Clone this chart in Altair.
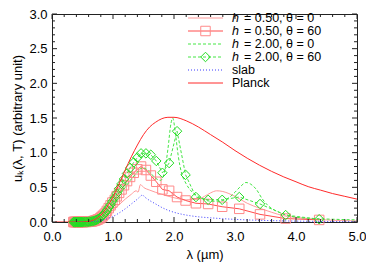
import altair as alt
import pandas as pd

# ---------------- data ----------------
planck_lam = [0.05, 0.3, 0.4, 0.5, 0.6, 0.7, 0.8, 0.9, 1.0, 1.1, 1.2, 1.3, 1.4, 1.5, 1.6, 1.7,
              1.8, 1.9, 2.0, 2.2, 2.4, 2.6, 2.8, 3.0, 3.2, 3.4, 3.6, 3.8, 4.0, 4.2, 4.4, 4.6, 4.8, 5.0]
planck_u = [0, 0, 0, 0.001, 0.008, 0.036, 0.10, 0.21, 0.36, 0.55, 0.75, 0.94, 1.11, 1.26, 1.37, 1.44,
            1.49, 1.51, 1.51, 1.46, 1.37, 1.26, 1.15, 1.03, 0.92, 0.82, 0.73, 0.65, 0.58, 0.51, 0.46, 0.41, 0.37, 0.33]

slab_lam = [0.35, 0.6, 0.7, 0.8, 0.9, 1.0, 1.1, 1.2, 1.3, 1.4, 1.45, 1.48, 1.52, 1.6, 1.7, 1.8, 1.9,
            2.0, 2.2, 2.4, 2.6, 2.8, 3.0, 3.5, 4.0, 4.5, 5.0]
slab_u = [0, 0.002, 0.008, 0.02, 0.045, 0.08, 0.13, 0.19, 0.26, 0.33, 0.37, 0.39, 0.36, 0.31, 0.26, 0.21, 0.17,
          0.14, 0.10, 0.075, 0.06, 0.048, 0.038, 0.022, 0.013, 0.008, 0.005]

h05_t0_lam = [0.35, 0.6, 0.7, 0.8, 0.9, 1.0, 1.1, 1.2, 1.3, 1.38, 1.41, 1.45, 1.5, 1.6, 1.8, 2.0, 2.2, 2.4,
              2.5, 2.6, 2.7, 2.8, 2.9, 3.0, 3.2, 3.4, 3.6, 3.8, 4.0, 4.5, 5.0]
h05_t0_u = [0, 0.005, 0.015, 0.05, 0.10, 0.17, 0.25, 0.33, 0.40, 0.45, 0.43, 0.54, 0.50, 0.46, 0.40, 0.35, 0.32, 0.33,
            0.37, 0.42, 0.45, 0.44, 0.41, 0.37, 0.27, 0.20, 0.14, 0.09, 0.065, 0.03, 0.015]

h20_t0_lam = [0.35, 0.6, 0.7, 0.8, 0.9, 1.0, 1.1, 1.2, 1.3, 1.4, 1.45, 1.5, 1.6, 1.7, 1.78, 1.85, 1.9, 1.95,
              1.98, 2.02, 2.07, 2.12, 2.2, 2.3, 2.4, 2.5, 2.6, 2.7, 2.8, 2.9, 3.0, 3.1, 3.18, 3.25, 3.35,
              3.45, 3.55, 3.7, 3.85, 4.0, 4.3, 4.6, 5.0]
h20_t0_u = [0, 0.003, 0.02, 0.07, 0.15, 0.26, 0.38, 0.5, 0.62, 0.72, 0.77, 0.78, 0.72, 0.63, 0.6, 0.75, 1.05, 1.42,
            1.5, 1.3, 0.95, 0.72, 0.55, 0.43, 0.37, 0.32, 0.3, 0.3, 0.31, 0.35, 0.43, 0.52, 0.57, 0.55, 0.47,
            0.33, 0.23, 0.15, 0.1, 0.07, 0.05, 0.04, 0.03]

# marker (theta = 60) series share one wavelength grid
m_lam = [0.35, 0.36, 0.37, 0.38, 0.39, 0.40, 0.41, 0.42, 0.43, 0.44, 0.45, 0.46, 0.47, 0.48, 0.49, 0.50,
         0.52, 0.54, 0.56, 0.58, 0.60, 0.62, 0.64, 0.66, 0.68, 0.70,
         0.72, 0.74, 0.76, 0.79, 0.81, 0.83, 0.85, 0.88, 0.90, 0.93, 0.96, 0.99,
         1.03, 1.06, 1.10, 1.14, 1.18, 1.23, 1.28, 1.34, 1.40, 1.46,
         1.54, 1.62, 1.71, 1.81, 1.92, 2.05, 2.19, 2.36, 2.56, 2.79,
         3.07, 3.41, 3.83, 4.38]
h05_t60_u = [0] * 16 + [0.0005, 0.001, 0.001, 0.002, 0.003, 0.005, 0.007, 0.01, 0.014, 0.019,
                        0.025, 0.032, 0.04, 0.055, 0.07, 0.085, 0.105, 0.13, 0.16, 0.2, 0.24, 0.28,
                        0.32, 0.37, 0.42, 0.47, 0.53, 0.59, 0.65, 0.71, 0.76, 0.8,
                        0.75, 0.67, 0.58, 0.47, 0.45, 0.36, 0.31, 0.27, 0.26, 0.22,
                        0.19, 0.11, 0.05, 0.03]
h20_t60_u = [0] * 16 + [0.0005, 0.001, 0.0015, 0.002, 0.003, 0.005, 0.008, 0.011, 0.015, 0.02,
                        0.027, 0.035, 0.045, 0.06, 0.075, 0.09, 0.11, 0.14, 0.17, 0.21, 0.25, 0.3,
                        0.35, 0.41, 0.48, 0.55, 0.62, 0.7, 0.78, 0.86, 0.93, 0.99,
                        0.99, 0.97, 0.88, 0.71, 0.85, 1.31, 0.68, 0.36, 0.32, 0.32,
                        0.36, 0.26, 0.1, 0.04]

x_major = [0, 1, 2, 3, 4, 5]
y_major = [0, 0.5, 1.0, 1.5, 2.0, 2.5, 3.0]
legend_labels = ["= 0.50, θ = 0", "= 0.50, θ = 60", "= 2.00, θ = 0", "= 2.00, θ = 60", "slab", "Planck"]

# ---------------- styling ----------------
W, H = 305, 208
FONT = "Liberation Sans"
FRAME = "#222222"
C_PLANCK = "#ff2a2a"
C_H05T0 = "#ff9a9a"
C_H05T60 = "#ff4c4c"
C_SQ = "#ff8a8a"
C_GREEN = "#44e644"
C_DIAM = "#22dd22"
C_BLUE = "#3a3aff"
DASH_G = [3, 2]
DASH_B = [1, 2]
SQ_SIZE, DM_SIZE = 90, 90
LEG_FS = 12.5

xs = alt.Scale(domain=[0, 5], nice=False, zero=False)
ys = alt.Scale(domain=[0, 3], nice=False, zero=False)

xaxis = alt.Axis(values=x_major, format=".1f", ticks=False, domain=False, grid=False,
                 labelFontSize=13, labelPadding=8, labelFlush=False, labelOverlap=False,
                 titleFontSize=13, titlePadding=5, titleFontWeight="normal", labelColor="#000000",
                 titleColor="#000000", labelFont=FONT, titleFont=FONT)
yaxis = alt.Axis(values=y_major, format=".1f", ticks=False, domain=False, grid=False,
                 labelFontSize=13, labelPadding=5, labelFlush=False, labelOverlap=False,
                 titleFontSize=13, titlePadding=4, titleFontWeight="normal", labelColor="#000000",
                 titleColor="#000000", labelFont=FONT, titleFont=FONT)

XT = "λ (µm)"
YT = "uₖ(λ, T) (arbitrary unit)"


def X():
    return alt.X("lam:Q", scale=xs, axis=xaxis, title=XT)


def Y():
    return alt.Y("u:Q", scale=ys, axis=yaxis, title=YT)


def line(lam, u, color, dash=None, interp="monotone", width=1.0):
    df = pd.DataFrame({"lam": lam, "u": u})
    kw = dict(color=color, strokeWidth=width, interpolate=interp, clip=True)
    if dash:
        kw["strokeDash"] = dash
    return alt.Chart(df).mark_line(**kw).encode(x=X(), y=Y())


def points(lam, u, shape, color, size):
    df = pd.DataFrame({"lam": lam, "u": u})
    return alt.Chart(df).mark_point(shape=shape, size=size, filled=False, color=color,
                                    strokeWidth=1, opacity=1).encode(x=X(), y=Y())


layers = [
    line(h05_t0_lam, h05_t0_u, C_H05T0),
    line(m_lam, h05_t60_u, C_H05T60, interp="linear"),
    points(m_lam, h05_t60_u, "square", C_SQ, SQ_SIZE),
    line(h20_t0_lam, h20_t0_u, C_GREEN, dash=DASH_G),
    line(m_lam, h20_t60_u, C_GREEN, dash=DASH_G, interp="linear"),
    points(m_lam, h20_t60_u, "diamond", C_DIAM, DM_SIZE),
    line(slab_lam, slab_u, C_BLUE, dash=DASH_B),
    line(planck_lam, planck_u, C_PLANCK),
]

# ---------------- inward ticks on all four sides ----------------
x_minor = [round(i * 0.2, 2) for i in range(26) if i % 5 != 0]
y_minor = [round(i * 0.1, 2) for i in range(31) if i % 5 != 0]


def xticks(vals, length):
    df = pd.DataFrame({"lam": vals})
    b = alt.Chart(df).mark_rule(color=FRAME, strokeWidth=1).encode(x=X(), y=alt.value(H), y2=alt.value(H - length))
    t = alt.Chart(df).mark_rule(color=FRAME, strokeWidth=1).encode(x=X(), y=alt.value(0), y2=alt.value(length))
    return [b, t]


def yticks(vals, length):
    df = pd.DataFrame({"u": vals})
    l = alt.Chart(df).mark_rule(color=FRAME, strokeWidth=1).encode(y=Y(), x=alt.value(0), x2=alt.value(length))
    r = alt.Chart(df).mark_rule(color=FRAME, strokeWidth=1).encode(y=Y(), x=alt.value(W), x2=alt.value(W - length))
    return [l, r]


layers += xticks(x_major, 5) + xticks(x_minor, 3) + yticks(y_major, 5) + yticks(y_minor, 3)

# ---------------- legend (drawn inside the plot, top right) ----------------
one = pd.DataFrame({"a": [0]})
LX0, LX1, LTX = 136, 171, 180
styles = [
    dict(color=C_H05T0),
    dict(color=C_H05T60),
    dict(color=C_GREEN, strokeDash=DASH_G),
    dict(color=C_GREEN, strokeDash=DASH_G),
    dict(color=C_BLUE, strokeDash=DASH_B),
    dict(color=C_PLANCK),
]
marks = {1: ("square", C_SQ, SQ_SIZE), 3: ("diamond", C_DIAM, DM_SIZE)}
for i, lab in enumerate(legend_labels):
    py = 4 + 13 * i
    layers.append(alt.Chart(one).mark_rule(strokeWidth=1, **styles[i]).encode(
        x=alt.value(LX0), x2=alt.value(LX1), y=alt.value(py)))
    if i in marks:
        shp, col, sz = marks[i]
        layers.append(alt.Chart(one).mark_point(shape=shp, size=sz, filled=False, color=col,
                                                strokeWidth=1, opacity=1).encode(
            x=alt.value((LX0 + LX1) / 2), y=alt.value(py)))
    if i < 4:
        layers.append(alt.Chart(one).mark_text(text="h", font=FONT, fontSize=LEG_FS, fontStyle="italic",
                                               align="left", baseline="middle", color="#000000").encode(
            x=alt.value(LTX), y=alt.value(py)))
        layers.append(alt.Chart(one).mark_text(text=lab, font=FONT, fontSize=LEG_FS,
                                               align="left", baseline="middle", color="#000000").encode(
            x=alt.value(LTX + 12), y=alt.value(py)))
    else:
        layers.append(alt.Chart(one).mark_text(text=lab, font=FONT, fontSize=LEG_FS,
                                               align="left", baseline="middle", color="#000000").encode(
            x=alt.value(LTX), y=alt.value(py)))

chart = alt.layer(*layers).properties(
    width=W, height=H,
    autosize=alt.AutoSizeParams(type="none"),
    padding={"left": 44, "top": 6, "right": 9, "bottom": 43},
).configure(
    font=FONT,
    view=alt.ViewConfig(stroke=FRAME, strokeWidth=1),
)

chart.save("out.html", embed_options={"renderer": "svg", "actions": False})
